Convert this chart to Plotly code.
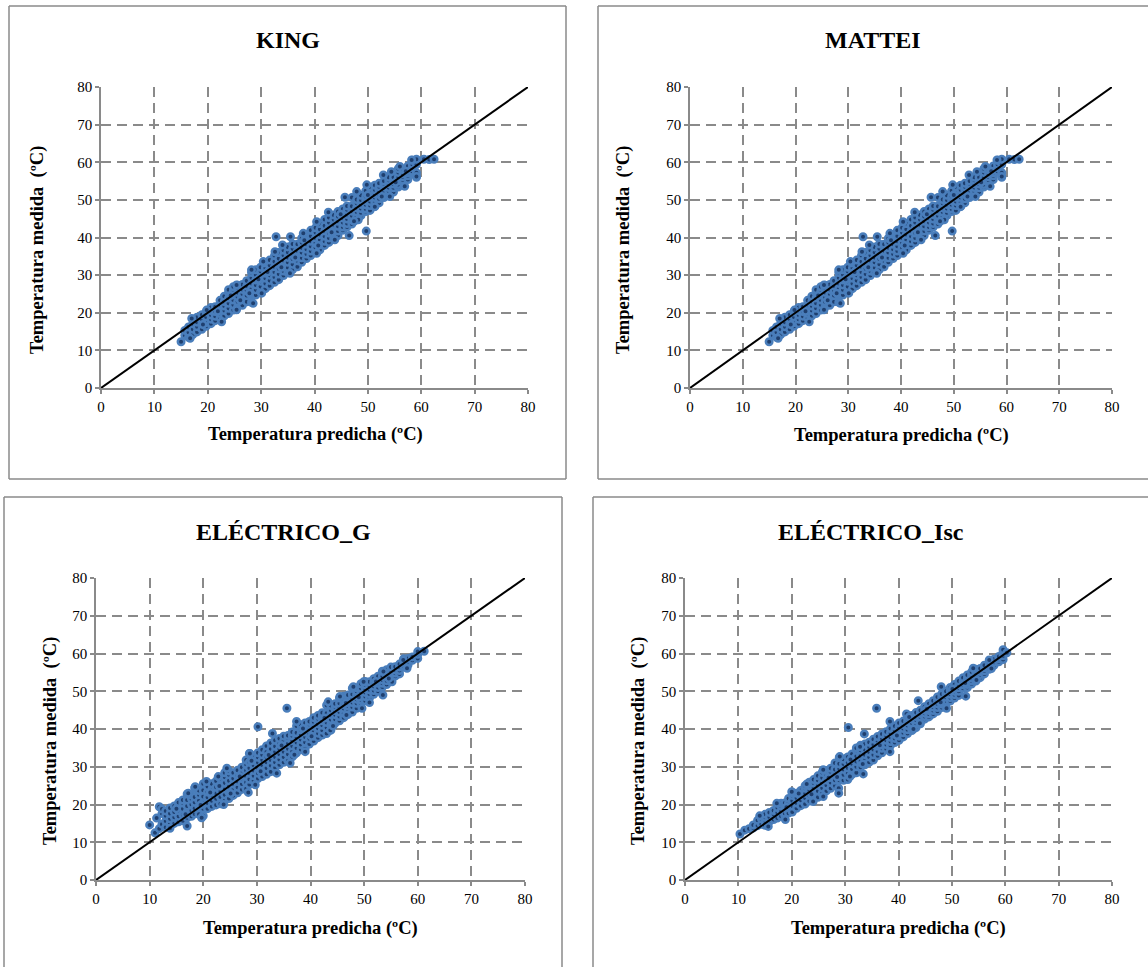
import plotly.graph_objects as go

W, H = 1148, 967
TICKS = [0, 10, 20, 30, 40, 50, 60, 70, 80]
TITLES = ["KING", "MATTEI", "ELÉCTRICO_G", "ELÉCTRICO_Isc"]
XLABEL = "Temperatura predicha (ºC)"
YLABEL = "Temperatura medida  (ºC)"
IDENTITY = [0, 80]

KING_COLS = [
 (15.0,[12.3]),(15.7,[14.0,15.3]),(16.4,[13.5,14.8,16.2]),(17.2,[14.2,15.6,17.1,18.2]),
 (18.0,[14.9,16.3,17.5,18.8]),(18.9,[15.6,17.0,18.2,19.5]),(19.7,[16.4,17.4,18.9,20.2]),
 (20.6,[17.1,18.3,19.4,20.6,21.4]),(21.4,[17.9,19.1,20.3,21.6]),(22.3,[18.6,19.8,21.0,22.2,23.3]),
 (23.1,[19.2,20.6,21.8,23.0,24.4]),(23.9,[19.8,21.2,22.5,23.9,25.3,26.1]),
 (24.8,[20.7,22.1,23.4,24.7,25.8,26.9]),(25.6,[21.6,22.9,24.2,25.4,26.6,27.3]),
 (26.5,[22.0,23.7,25.0,26.2,27.5]),(27.3,[22.9,24.6,25.9,27.1,28.5]),
 (28.2,[22.8,24.9,26.4,27.8,29.3,30.7]),(29.0,[24.7,26.1,27.4,28.7,30.1,31.4]),
 (29.9,[25.6,27.0,28.4,29.6,31.0,32.1]),(30.8,[26.4,27.8,29.2,30.5,31.9,33.2]),
 (31.6,[27.2,28.6,30.0,31.3,32.6,34.0]),(32.5,[28.1,29.5,30.8,32.2,33.6,35.2]),
 (33.3,[28.8,30.3,31.7,33.0,34.4,36.0]),(34.2,[29.9,31.1,32.5,33.9,35.3,36.6]),
 (35.0,[30.7,32.0,33.4,34.7,36.1,37.5]),(35.9,[31.5,32.9,34.3,35.6,37.0,38.3]),
 (36.8,[32.2,33.8,35.2,36.5,37.8,38.2]),(37.6,[33.4,34.6,36.0,37.3,38.7,39.8]),
 (38.5,[34.4,35.6,36.9,38.2,39.6,40.8]),(39.3,[35.2,36.4,37.7,39.0,40.4,41.9]),
 (40.2,[36.1,37.3,38.6,39.9,41.3,42.6]),(41.0,[36.7,38.1,39.4,40.8,42.2,43.7]),
 (41.9,[37.9,39.0,40.3,41.7,43.1,44.8]),(42.7,[38.7,39.9,41.2,42.5,44.0,45.3]),
 (43.6,[39.6,40.8,42.1,43.4,44.8,46.0]),(44.4,[40.5,41.7,43.0,44.3,45.6,46.9]),
 (45.3,[41.9,42.8,44.0,45.2,46.5,47.6]),(46.1,[42.8,43.7,44.9,46.1,47.4,48.4]),
 (47.0,[43.6,44.6,45.8,47.0,48.3,50.6]),(47.9,[44.7,45.6,46.8,47.9,49.1,50.1]),
 (48.7,[45.8,46.6,47.7,48.8,50.0,51.2]),(49.6,[46.9,47.6,48.7,49.8,50.9,52.4]),
 (50.4,[47.2,48.5,49.6,50.7,51.8,53.4]),(51.3,[48.3,49.4,50.6,51.6,52.7,53.9]),
 (52.1,[49.2,50.3,51.5,52.5,53.5,54.4]),(53.0,[50.6,51.4,52.4,53.4,54.3,55.0]),
 (53.9,[51.2,52.3,53.3,54.3,55.2,56.0]),(54.8,[52.1,53.2,54.2,55.1,56.0]),
 (55.7,[53.4,54.1,55.1,56.0,57.3,58.3]),(56.6,[54.5,55.2,56.1,56.9,58.0]),
 (57.5,[55.4,56.4,57.2,58.0,59.0]),(58.3,[57.6,58.6,59.5,60.5]),
 (59.1,[56.0,57.2,59.4,60.8]),(60.5,[60.8]),(61.5,[60.7]),(62.4,[60.8]),
 (32.8,[40.2]),(35.5,[40.2]),(46.5,[40.5]),(49.7,[41.7]),
]
KING_EXTRA = [
 (17.0,18.5),(19.8,20.7),(25.4,27.4),(28.2,31.4),(30.4,33.6),(32.6,36.2),(34.0,38.0),(37.9,41.1),
 (40.4,44.2),(42.6,46.7),(45.7,50.7),(47.9,52.2),(49.8,54.0),(52.9,56.6),(54.4,57.5),(56.0,58.9),(58.2,60.6),
 (16.7,13.2),(22.6,17.6),(25.4,20.8),(28.5,22.5),(30.1,25.2),(35.4,30.5),(40.4,35.8),(43.8,39.4),
 (48.2,44.7),(51.3,48.2),(54.1,50.9),(56.9,53.6),(59.1,56.2),
 (19.1,16.9),(21.9,20.4),(24.3,24.6),(26.1,23.3),(27.8,25.2),(29.5,28.9),(31.2,30.8),(33.8,32.1),
 (36.4,34.7),(38.1,39.3),(40.7,37.9),(43.2,41.4),(44.9,46.2),(47.4,44.3),(50.0,51.3),(52.6,50.9),(55.2,54.7),(57.1,57.6),
]
MATTEI_COLS = KING_COLS
MATTEI_EXTRA = KING_EXTRA

ELEC_G_COLS = [
 (10.0,[14.6]),(11.0,[12.5]),(11.3,[16.4]),(11.8,[13.6,19.4]),(12.3,[14.8,17.6,18.8]),
 (13.0,[14.0,15.6,17.0,18.3]),(13.8,[14.9,16.2,17.6,19.1]),(14.6,[15.0,16.6,18.0,19.6]),
 (15.4,[15.4,16.9,18.4,19.9,20.5]),(16.2,[15.7,17.3,18.9,20.4,21.2]),(17.0,[14.3,16.5,18.1,19.6,21.2,22.8]),
 (17.8,[16.9,18.4,20.0,21.5,22.5]),(18.4,[17.5,19.0,20.6,22.0,24.4]),(19.2,[17.4,19.4,21.0,22.6,23.7]),
 (20.0,[17.0,18.9,20.5,22.1,23.8,25.5]),(20.8,[18.9,20.4,21.9,23.3,24.8]),(21.6,[19.5,21.0,22.5,24.0,25.5]),
 (22.4,[19.9,21.5,23.0,24.6,26.2]),(23.2,[20.2,22.0,23.6,25.1,26.9]),(24.0,[21.0,22.6,24.1,25.7,27.3,28.4]),
 (24.8,[21.6,23.2,24.8,26.3,27.9,28.9]),(25.6,[22.4,23.9,25.4,26.9,28.4]),(26.4,[23.1,24.6,26.1,27.6,29.1]),
 (27.2,[24.0,25.4,26.9,28.3,29.9]),(28.0,[24.2,25.9,27.5,29.0,30.6,31.8]),(28.6,[25.3,26.7,28.3,29.7,31.2,33.5]),
 (29.4,[26.3,27.6,29.0,30.4,31.8,32.7]),(30.2,[26.9,28.3,29.7,31.1,32.5,33.7]),(31.0,[27.4,29.0,30.4,31.8,33.2,34.5]),
 (31.8,[28.0,29.7,31.2,32.6,34.0,35.5]),(32.6,[28.7,30.3,31.8,33.2,34.7,36.3]),(33.4,[29.8,31.2,32.6,34.0,35.4,37.0]),
 (34.2,[30.5,31.9,33.3,34.7,36.2,37.5]),(35.0,[31.2,32.6,34.0,35.4,36.9,38.1]),(35.8,[31.6,33.3,34.8,36.2,37.6,38.3]),
 (36.6,[32.6,34.1,35.5,36.9,38.2,39.2]),(37.4,[33.7,35.0,36.4,37.7,39.0,40.8]),(38.2,[34.6,35.9,37.2,38.5,39.8,41.1]),
 (39.0,[34.8,36.5,37.9,39.2,40.6,41.6]),(39.8,[36.0,37.4,38.7,40.0,41.2,42.0]),(40.6,[36.8,38.1,39.4,40.7,41.9,43.0]),
 (41.4,[37.7,38.9,40.2,41.4,42.7,43.6]),(42.2,[38.4,39.7,41.0,42.2,43.4,44.3]),(43.0,[38.8,40.4,41.7,43.0,44.2,46.3]),
 (43.8,[39.7,41.2,42.5,43.8,45.0,46.2]),(44.6,[41.6,42.6,43.8,44.9,45.9,46.7]),(45.4,[42.2,43.3,44.5,45.7,46.8,48.2]),
 (46.2,[43.0,44.2,45.4,46.5,47.6,48.7]),(47.0,[43.9,45.0,46.1,47.3,48.4,49.0]),(47.8,[44.5,45.8,47.0,48.1,49.2,50.8]),
 (48.6,[45.5,46.8,47.9,49.0,50.0,50.9]),(49.4,[46.8,47.7,48.8,49.8,50.8,52.0]),(50.2,[47.5,48.6,49.7,50.7,51.7,52.6]),
 (51.0,[48.2,49.3,50.4,51.5,52.5]),(51.8,[49.2,50.2,51.3,52.3,53.3]),(52.6,[50.0,51.0,52.1,53.1,54.0]),
 (53.4,[51.1,52.1,53.0,54.0,55.3]),(54.2,[51.8,52.8,53.8,54.8,55.7]),(55.0,[52.6,53.5,54.6,55.5,56.4]),
 (55.8,[54.0,54.8,55.6,56.5]),(56.6,[54.6,55.5,56.4,57.2]),(57.4,[56.6,57.4,58.6]),(58.2,[57.0,57.9,58.7]),
 (59.0,[58.2,59.1]),(60.0,[58.7,59.8,60.5]),(61.2,[60.6]),
 (30.2,[40.6]),(35.6,[45.5]),(53.5,[49.0]),(32.9,[38.8]),
]
ELEC_G_EXTRA = [
 (17.2,23.0),(18.5,24.7),(20.6,26.1),(22.8,27.4),(24.4,29.6),(28.7,33.5),(37.4,42.0),(43.3,47.2),(45.5,48.6),
 (48.0,51.2),(49.9,52.5),(53.6,55.2),(57.3,58.3),
 (13.8,13.7),(19.7,16.5),(23.8,20.0),(28.4,23.2),(29.7,25.2),(33.7,28.3),(36.2,31.0),(39.0,34.0),
 (43.7,39.7),(46.7,43.7),(49.6,45.5),(51.0,47.0),(55.2,52.5),(58.0,56.1),
 (15.0,18.9),(16.7,17.4),(19.5,19.9),(21.3,23.2),(23.0,24.9),(25.1,22.9),(26.8,27.4),(29.0,31.6),(30.7,28.8),
 (32.2,33.1),(34.6,35.6),(37.0,33.2),(38.6,40.1),(40.2,38.1),(42.6,42.9),(44.2,40.8),(46.6,46.9),(49.0,48.4),(52.2,52.6),(54.6,53.4),
]

ELEC_I_COLS = [
 (10.3,[12.2]),(11.2,[13.2]),(12.0,[13.6]),(12.8,[13.8,14.6]),(13.6,[14.4,15.8]),(14.3,[14.8,16.2]),
 (15.0,[14.5,15.7,16.6,17.4]),(15.8,[15.5,16.7,17.9]),(16.6,[16.0,17.4,18.4]),(17.3,[16.4,17.9,19.2]),
 (18.0,[16.9,18.3,19.6,20.3]),(18.7,[17.0,17.6,19.0,20.4]),(19.4,[17.7,19.1,20.5,21.6]),
 (20.1,[18.0,19.6,21.0,22.4,23.1]),(20.9,[19.0,20.4,21.7,23.0]),(21.7,[19.7,21.1,22.4,23.7]),
 (22.5,[20.1,21.7,23.0,24.3,25.0]),(23.3,[20.9,22.4,23.8,25.0,25.9]),(24.1,[21.5,23.0,24.4,25.7,26.6]),
 (24.9,[21.9,23.6,25.1,26.4,27.6]),(25.7,[22.9,24.4,25.8,27.1,28.5]),(26.5,[23.6,25.1,26.5,27.8,29.0]),
 (27.3,[24.3,25.8,27.2,28.5,29.6]),(28.1,[25.0,26.4,27.9,29.3,31.0]),(28.9,[26.4,28.0,29.5,30.8,32.5]),
 (29.7,[26.4,27.9,29.3,30.7,32.0]),(30.5,[26.6,28.3,29.7,31.1,32.6]),(31.3,[28.0,29.4,30.8,32.1,33.4]),
 (32.1,[28.4,30.0,31.4,32.8,34.4,35.0]),(32.9,[29.9,31.5,33.0,34.4,35.7]),(33.7,[30.5,31.9,33.2,34.6,36.0]),
 (34.5,[31.2,32.6,33.9,35.2,36.5]),(35.3,[31.8,33.2,34.6,35.9,37.3]),(36.1,[32.9,34.1,35.4,36.7,38.0]),
 (36.9,[33.7,34.9,36.2,37.5,38.7]),(37.7,[34.8,35.9,37.0,38.2,39.3]),(38.5,[35.6,36.7,37.8,39.0,40.1]),
 (39.3,[36.4,37.5,38.6,39.7,40.8]),(40.1,[37.0,38.1,39.3,40.5,41.6]),(40.9,[37.9,39.0,40.1,41.2,42.1]),
 (41.7,[38.8,39.8,40.9,41.9,42.8]),(42.5,[39.6,40.6,41.6,42.6,43.6]),(43.3,[40.4,41.4,42.4,43.3,44.4]),
 (44.1,[41.4,42.3,43.2,44.1,45.0]),(44.9,[42.6,43.3,44.2,45.0,45.9]),(45.7,[43.2,44.0,44.9,45.8,46.7]),
 (46.5,[44.0,44.9,45.8,46.7,47.5]),(47.3,[44.7,45.7,46.7,47.6,48.5]),(48.1,[45.7,46.6,47.5,48.4,49.3]),
 (48.9,[46.6,47.5,48.4,49.3,50.0]),(49.7,[47.4,48.3,49.2,50.1,51.0]),(50.5,[48.2,49.1,50.0,50.9,51.8]),
 (51.3,[48.9,50.0,50.9,51.8,52.7]),(52.1,[50.8,51.7,52.6,53.6]),(52.9,[51.0,51.8,52.6,53.4,54.3]),
 (53.7,[51.9,52.7,53.5,54.3,55.1]),(54.5,[52.7,53.5,54.3,55.1,55.8]),(55.3,[53.6,54.4,55.2,56.0]),
 (56.1,[54.6,55.4,56.2,56.9]),(57.0,[55.8,56.6,57.4]),(57.9,[56.9,57.7,58.5]),(58.8,[57.8,58.6,59.2]),
 (59.6,[58.4,59.4,60.4,61.0]),(60.3,[60.2]),
 (30.6,[40.4]),(35.9,[45.5]),(33.6,[38.7]),(28.8,[24.3,23.0]),(33.4,[28.1]),(15.6,[14.2]),(18.8,[16.0]),(52.6,[48.7]),
]
ELEC_I_EXTRA = [
 (14.0,17.0),(17.2,20.3),(20.0,23.4),(22.8,25.4),(25.9,29.2),(29.0,32.7),(32.8,35.3),(38.4,42.0),(41.5,44.0),
 (43.7,47.5),(48.0,51.2),(54.0,56.1),(57.0,58.3),
 (25.9,22.1),(24.0,20.8),(30.9,27.4),(38.4,34.0),(42.8,40.0),(44.0,41.5),(49.0,45.5),(54.6,53.0),(57.4,56.0),
 (19.0,19.3),(21.3,22.9),(23.7,22.7),(26.9,27.1),(28.5,27.3),(31.0,31.9),(33.3,30.7),(36.5,35.7),(39.7,38.3),
 (42.0,43.2),(45.3,45.3),(47.9,47.1),(50.1,50.6),(52.5,52.2),
]

COLUMNS = [KING_COLS, MATTEI_COLS, ELEC_G_COLS, ELEC_I_COLS]
EXTRAS = [KING_EXTRA, MATTEI_EXTRA, ELEC_G_EXTRA, ELEC_I_EXTRA]

# layout: pixel geometry of each panel
PLOT = [(101, 528, 388, 87), (690, 1112, 388, 87), (96, 525, 880, 578), (685, 1112, 880, 578)]
FRAME = [(9, 566, 6, 479), (598, 1148, 6, 479), (4, 562, 497, 967), (593, 1148, 497, 967)]
FRAME_EDGES = [("l", "r", "t", "b"), ("l", "t", "b"), ("l", "r", "t"), ("l", "t")]
TITLE_POS = [(288, 40), (873, 40), (283, 532), (871, 532)]
XT_POS = [(315, 434), (901, 435), (310, 927), (898, 927)]
YT_POS = [(37, 250), (623, 250), (50, 741), (638, 741)]

GRAY = "#8A8A8A"
FONT = "Liberation Serif"
px = lambda v: v / W
py = lambda v: 1 - v / H

fig = go.Figure()
layout = dict(width=W, height=H, autosize=False, margin=dict(l=0, r=0, t=0, b=0, pad=0), showlegend=False,
              paper_bgcolor="white", plot_bgcolor="white",
              font=dict(family=FONT, color="black", size=15), shapes=[], annotations=[])

for i in range(4):
    s = "" if i == 0 else str(i + 1)
    x0, x1, y0, y1 = PLOT[i]
    axis = dict(range=[0, 80], tickmode="array", tickvals=TICKS, ticktext=[str(t) for t in TICKS],
                showgrid=True, gridcolor=GRAY, gridwidth=1.5, griddash="10px,6px", zeroline=False,
                showline=True, linecolor=GRAY, linewidth=1.5, ticks="outside", ticklen=4,
                tickcolor=GRAY, tickwidth=1.5, automargin=False, tickfont=dict(family=FONT, size=15, color="black"))
    layout["xaxis" + s] = dict(axis, domain=[px(x0), px(x1)], anchor="y" + s)
    layout["yaxis" + s] = dict(axis, domain=[py(y0), py(y1)], anchor="x" + s)
    xs = [x for x, ys in COLUMNS[i] for _ in ys] + [p[0] for p in EXTRAS[i]]
    ys = [y for _, vals in COLUMNS[i] for y in vals] + [p[1] for p in EXTRAS[i]]
    fig.add_trace(go.Scatter(x=xs, y=ys, mode="markers", xaxis="x" + s, yaxis="y" + s,
                             marker=dict(size=6.5, color="#1F3F6E", line=dict(color="#4A7EBB", width=2.5))))
    fig.add_trace(go.Scatter(x=IDENTITY, y=IDENTITY, mode="lines", xaxis="x" + s, yaxis="y" + s,
                             line=dict(color="black", width=2)))
    fx0, fx1, fy0, fy1 = FRAME[i]
    segs = {"l": (fx0, fy0, fx0, fy1), "r": (fx1, fy0, fx1, fy1), "t": (fx0, fy0, fx1, fy0), "b": (fx0, fy1, fx1, fy1)}
    for e in FRAME_EDGES[i]:
        a, b, c, d = segs[e]
        layout["shapes"].append(dict(type="line", xref="paper", yref="paper", x0=px(a), y0=py(b), x1=px(c), y1=py(d),
                                     line=dict(color=GRAY, width=1.5), layer="below"))
    layout["annotations"] += [
        dict(text=f"<b>{TITLES[i]}</b>", x=px(TITLE_POS[i][0]), y=py(TITLE_POS[i][1]), xref="paper", yref="paper",
             showarrow=False, xanchor="center", yanchor="middle", font=dict(family=FONT, size=24)),
        dict(text=f"<b>{XLABEL}</b>", x=px(XT_POS[i][0]), y=py(XT_POS[i][1] + 1), xref="paper", yref="paper",
             showarrow=False, xanchor="center", yanchor="middle", font=dict(family=FONT, size=18.5)),
        dict(text=f"<b>{YLABEL}</b>", x=px(YT_POS[i][0]), y=py(YT_POS[i][1]), xref="paper", yref="paper",
             showarrow=False, xanchor="center", yanchor="middle", textangle=-90, font=dict(family=FONT, size=18.5)),
    ]

fig.update_layout(**layout)
fig.write_html("out.html", config={"displayModeBar": False},
               post_script="document.body.style.margin='0';")
